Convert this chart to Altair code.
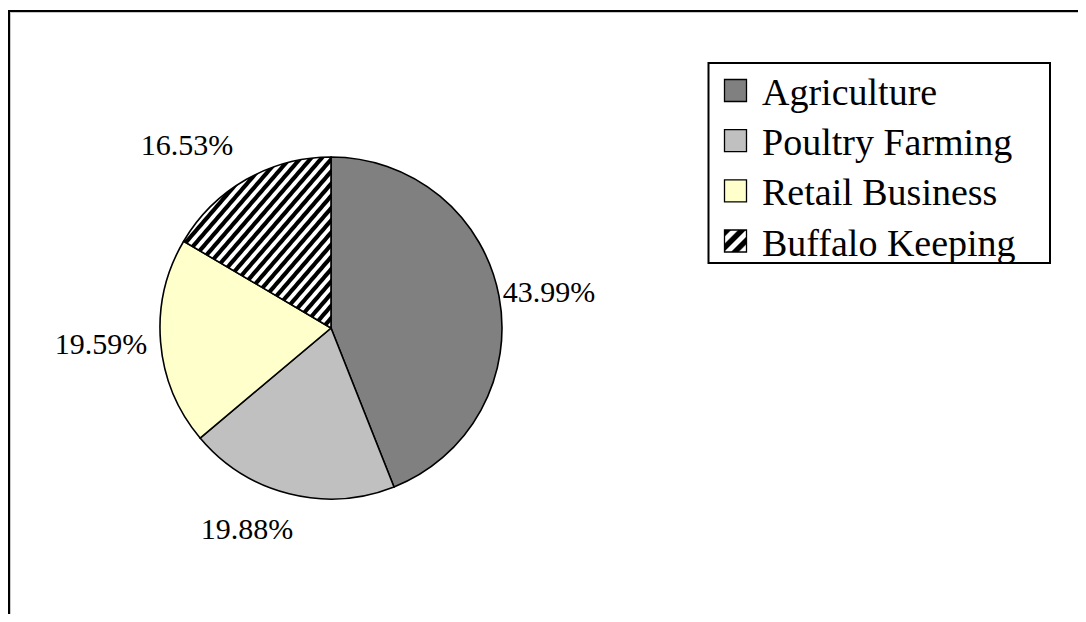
import altair as alt
import pandas as pd

# ---- data ----
categories = ["Agriculture", "Poultry Farming", "Retail Business", "Buffalo Keeping"]
shares = [43.99, 19.88, 19.59, 16.53]
slice_order = [0, 1, 2, 3]

# ---- styling ----
FONT = "'Liberation Serif', 'Times New Roman', Times, 'DejaVu Serif', serif"
colors = ["#808080", "#C0C0C0", "#FFFFCC", "#FFFFFF"]
W, H = 1070, 606
CX, CY, R = 323, 320, 171

total = sum(shares)
df = pd.DataFrame({"cat": categories, "value": shares, "order": slice_order})
one = pd.DataFrame({"k": [0]})


def stripes(n, black=0.4, soft=0.12):
    stops = []
    for k in range(n):
        b = k / n
        stops += [
            {"offset": round(b, 5), "color": "#000000"},
            {"offset": round(b + black / n, 5), "color": "#000000"},
            {"offset": round(b + (black + soft) / n, 5), "color": "#ffffff"},
            {"offset": round(b + (1 - soft) / n, 5), "color": "#ffffff"},
        ]
    stops.append({"offset": 1, "color": "#000000"})
    return {"gradient": "linear", "x1": 0, "y1": 0, "x2": 1, "y2": 1, "stops": stops}


pie_grad = stripes(28)
leg_grad = stripes(3)
is_buff = "datum.cat == 'Buffalo Keeping'"
fill_scale = alt.Scale(domain=categories, range=colors)

# ---- outer frame ----
frame = [
    alt.Chart(one).mark_rule(color="black", strokeWidth=2).encode(
        x=alt.value(0), x2=alt.value(W), y=alt.value(3)),
    alt.Chart(one).mark_rule(color="#c8c8c8", strokeWidth=1).encode(
        x=alt.value(2), x2=alt.value(W), y=alt.value(4.5)),
    alt.Chart(one).mark_rule(color="black", strokeWidth=2).encode(
        x=alt.value(1), y=alt.value(2), y2=alt.value(H)),
    alt.Chart(one).mark_rule(color="#c8c8c8", strokeWidth=1).encode(
        x=alt.value(2.5), y=alt.value(4), y2=alt.value(H)),
]

# ---- pie ----
pie = alt.Chart(df).mark_arc(radius=R, stroke="black", strokeWidth=1.6).encode(
    theta=alt.Theta("value:Q", stack=True, scale=alt.Scale(domain=[0, total])),
    order=alt.Order("order:Q"),
    fill=alt.condition(is_buff, alt.value(pie_grad),
                       alt.Fill("cat:N", scale=fill_scale, legend=None)),
    x=alt.value(CX),
    y=alt.value(CY),
)

# ---- percentage labels ----
lab_base = alt.Chart(df).transform_window(
    cum="sum(value)", sort=[alt.SortField("order", order="ascending")], frame=[None, 0]
).transform_calculate(
    mid="datum.cum - datum.value / 2",
    label="format(datum.value, '.2f') + '%'",
)
label_offsets = {
    "Agriculture": (21.5, 2.5),
    "Poultry Farming": (-35, 8),
    "Retail Business": (-30.7, 0),
    "Buffalo Keeping": (-44.7, -8.5),
}
labels = []
for c in categories:
    dx, dy = label_offsets[c]
    labels.append(
        lab_base.transform_filter(alt.datum.cat == c).mark_text(
            font=FONT, fontSize=30, color="black", dx=dx, dy=dy,
            align="center", baseline="middle",
        ).encode(
            theta=alt.Theta("mid:Q", stack=False, scale=alt.Scale(domain=[0, total])),
            radius=alt.value(200),
            x=alt.value(CX),
            y=alt.value(CY),
            text="label:N",
        )
    )

# ---- legend ----
leg_y = alt.Y("cat:N", sort=categories, axis=None,
              scale=alt.Scale(type="point", domain=categories, range=[82.5, 233], padding=0))
leg_box = alt.Chart(one).mark_rect(fill="white", stroke="black", strokeWidth=2).encode(
    x=alt.value(700.5), x2=alt.value(1042), y=alt.value(55), y2=alt.value(255))
leg_sym = alt.Chart(df).mark_square(size=484, stroke="black", strokeWidth=1.3, opacity=1).encode(
    x=alt.value(727.5),
    y=leg_y,
    fill=alt.condition(is_buff, alt.value(leg_grad),
                       alt.Fill("cat:N", scale=fill_scale, legend=None)),
)
leg_txt = alt.Chart(df).mark_text(
    font=FONT, fontSize=38, color="black", align="left", baseline="alphabetic", dy=14.5
).encode(x=alt.value(754), y=leg_y, text="cat:N")

chart = alt.layer(*frame, pie, *labels, leg_box, leg_sym, leg_txt).properties(
    width=W, height=H, autosize=alt.AutoSizeParams(type="none"), padding=0,
    background="white",
).configure_view(stroke=None)

chart.save("out.html", embed_options={"renderer": "svg", "actions": False})
